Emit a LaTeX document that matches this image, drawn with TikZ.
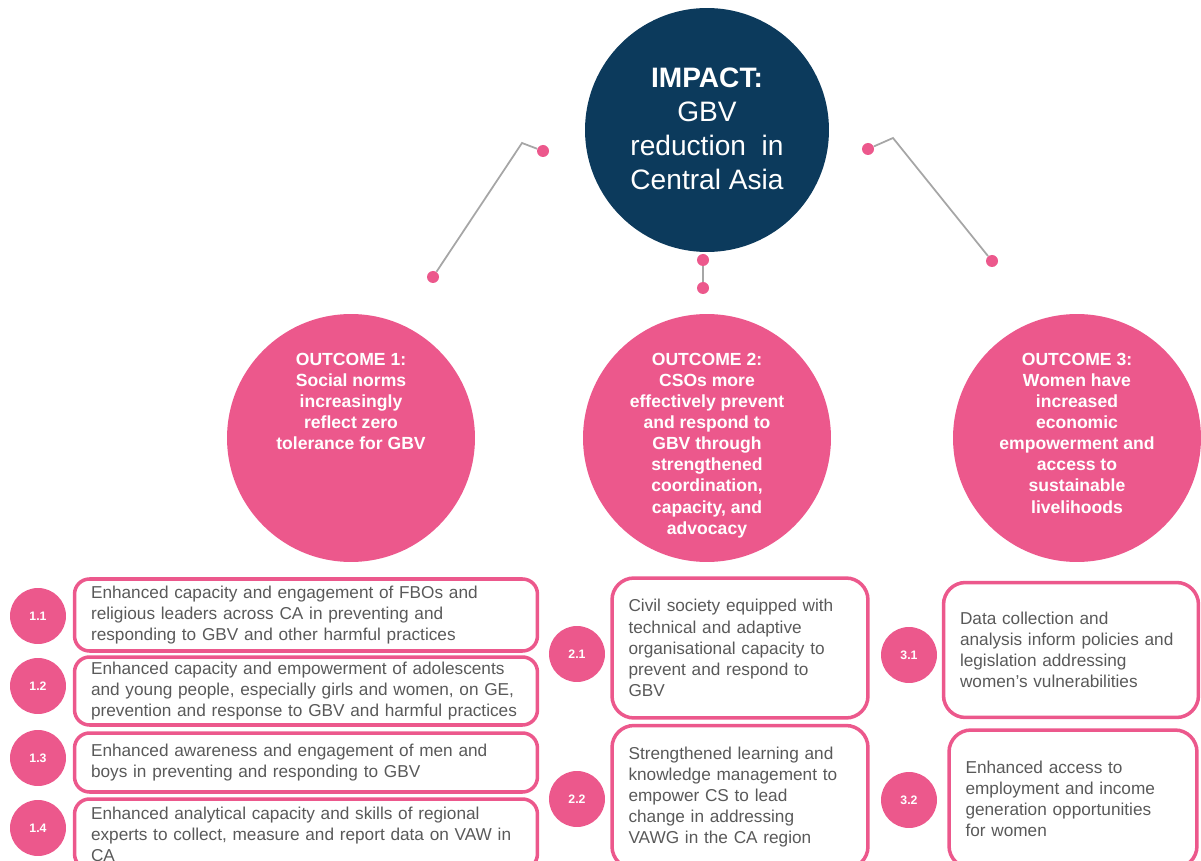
\documentclass[tikz,border=0pt]{standalone}
\usepackage{fontspec}
\setmainfont{Liberation Sans}
\definecolor{gbvpink}{RGB}{236,88,140}
\definecolor{gbvnavy}{RGB}{12,58,92}
\definecolor{gbvgrey}{RGB}{89,89,89}
\definecolor{linkgrey}{RGB}{166,166,166}
\begin{document}
\begin{tikzpicture}[x=0.02cm,y=-0.02cm,
		impact/.style={circle,fill=gbvnavy,minimum size=4.88cm,inner sep=0pt},
		outcome/.style={circle,fill=gbvpink,minimum size=4.96cm,inner sep=0pt},
		otext/.style={anchor=north,text=white,align=center,font=\bfseries\fontsize{10}{12}\selectfont},
		dot/.style={circle,fill=gbvpink,minimum size=0.24cm,inner sep=0pt},
		link/.style={draw=linkgrey,line width=1pt},
		num/.style={circle,fill=gbvpink,minimum size=1.12cm,inner sep=0pt,text=white,font=\bfseries\fontsize{7}{8}\selectfont},
		outbox/.style={draw=gbvpink,line width=2pt,rounded corners=#1,inner xsep=0.33cm,inner ysep=0pt,align=left,text=gbvgrey,font=\fontsize{9.8}{12}\selectfont}]
		\useasboundingbox (0,0) rectangle (1201,861);
		
		% impact
		\node[impact] (imp) at (707,130) {};
		\node[text=white,align=center,font=\fontsize{16}{19.3}\selectfont] (imptxt) at (707,129)
			{\textbf{IMPACT:}\\GBV\\reduction~~in\\Central Asia};
		
		% connectors
		\node[dot] (dla) at (543,151) {}; \coordinate (ela) at (522,143); \node[dot] (dlb) at (433,277) {};
		\draw[link] (dla) -- (ela) -- (dlb);
		\node[dot] (dma) at (703,260) {}; \node[dot] (dmb) at (703,288) {};
		\draw[link] (dma) -- (dmb);
		\node[dot] (dra) at (868,149) {}; \coordinate (era) at (893,138); \node[dot] (drb) at (992,261) {};
		\draw[link] (dra) -- (era) -- (drb);
		
		% outcomes
		\node[outcome] (out1) at (351,438) {};
		\node[otext] (out1txt) at (351,347) {OUTCOME 1:\\Social norms\\increasingly\\reflect zero\\tolerance for GBV};
		\node[outcome] (out2) at (707,438) {};
		\node[otext] (out2txt) at (707,347) {OUTCOME 2:\\CSOs more\\effectively prevent\\and respond to\\GBV through\\strengthened\\coordination,\\capacity, and\\advocacy};
		\node[outcome] (out3) at (1077,438) {};
		\node[otext] (out3txt) at (1077,347) {OUTCOME 3:\\Women have\\increased\\economic\\empowerment and\\access to\\sustainable\\livelihoods};
		
		% outputs 1
		\node[num] (n11) at (38,616) {1.1};
		\node[outbox=0.3cm,text width=8.6cm,minimum height=1.44cm] (b11) at (306,615)
			{Enhanced capacity and engagement of FBOs and\\religious leaders across CA in preventing and\\responding to GBV and other harmful practices};
		\node[num] (n12) at (38,686) {1.2};
		\node[outbox=0.3cm,text width=8.6cm,minimum height=1.36cm] (b12) at (306,691)
			{Enhanced capacity and empowerment of adolescents\\and young people, especially girls and women, on GE,\\prevention and response to GBV and harmful practices};
		\node[num] (n13) at (38,758) {1.3};
		\node[outbox=0.3cm,text width=8.6cm,minimum height=1.18cm] (b13) at (306,762.5)
			{Enhanced awareness and engagement of men and\\boys in preventing and responding to GBV};
		\node[num] (n14) at (38,828) {1.4};
		\node[outbox=0.3cm,text width=8.6cm,minimum height=1.4cm] (b14) at (306,834)
			{Enhanced analytical capacity and skills of regional\\experts to collect, measure and report data on VAW in\\CA};
		
		% outputs 2
		\node[num] (n21) at (577,654) {2.1};
		\node[outbox=0.44cm,text width=4.46cm,minimum height=2.8cm] (b21) at (740,648)
			{Civil society equipped with\\technical and adaptive\\organisational capacity to\\prevent and respond to\\GBV};
		\node[num] (n22) at (577,799) {2.2};
		\node[outbox=0.44cm,text width=4.46cm,minimum height=2.86cm] (b22) at (740,797)
			{Strengthened learning and\\knowledge management to\\empower CS to lead\\change in addressing\\VAWG in the CA region};
		
		% outputs 3
		\node[num] (n31) at (909,655) {3.1};
		\node[outbox=0.44cm,text width=4.44cm,minimum height=2.7cm] (b31) at (1071,650)
			{Data collection and\\analysis inform policies and\\legislation addressing\\women's vulnerabilities};
		\node[num] (n32) at (909,800) {3.2};
		\node[outbox=0.44cm,text width=4.3cm,minimum height=2.76cm] (b32) at (1073,799)
			{Enhanced access to\\employment and income\\generation opportunities\\for women};
		\end{tikzpicture}
\end{document}
